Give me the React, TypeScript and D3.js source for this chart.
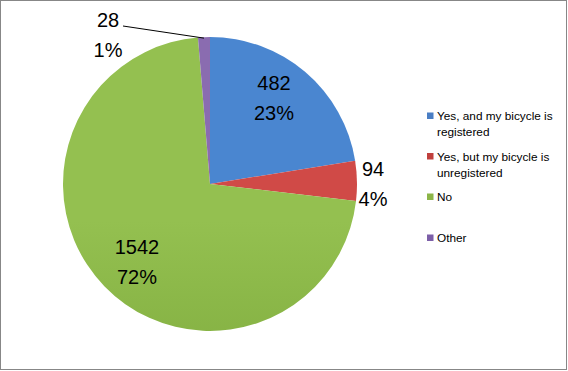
import React from "react";
import * as d3 from "d3";

const categories = ["Yes, and my bicycle is registered", "Yes, but my bicycle is unregistered", "No", "Other"];
const values = [482, 94, 1542, 28];
const pctLabels = ["23%", "4%", "72%", "1%"];
const legendLines = [["Yes, and my bicycle is", "registered"], ["Yes, but my bicycle is", "unregistered"], ["No"], ["Other"]];
const topColors = ["#4A86D0", "#D04A47", "#94C050", "#8A6CB0"];
const bottomColors = ["#3868AE", "#B03A37", "#73A034", "#6E5290"];
const legendColors = ["#4A7EC4", "#C0403D", "#8CB548", "#7C5FA8"];

export default function App() {
  const W = 568, H = 371;
  const cx = 210, cy = 184, r = 147;
  const pie = d3.pie<number>().sort(null).value((d) => d);
  const arcs = pie(values);
  const arc = d3.arc<d3.PieArcDatum<number>>().innerRadius(0).outerRadius(r);
  const font = "'Liberation Sans', Arial, sans-serif";
  const labelPos: [number, number][] = [
    [64, -94],
    [163, -8],
    [-73, 70],
    [-102, -157],
  ];
  const legendY = [120, 160.5, 201, 242];
  return (
    <div style={{ position: "absolute", left: 0, top: 0 }}>
      <svg width={W} height={H} style={{ display: "block" }}>
        <defs>
          {arcs.map((a, i) => (
            <linearGradient key={i} id={`g${i}`} gradientUnits="userSpaceOnUse" x1={0} y1={cy - r} x2={0} y2={cy + r}>
              <stop offset="0" stopColor={topColors[i]} />
              <stop offset="1" stopColor={bottomColors[i]} />
            </linearGradient>
          ))}
        </defs>
        <rect x={0.5} y={0.5} width={W - 2} height={H - 2} fill="#fff" stroke="#878787" strokeWidth={1} />
        <g transform={`translate(${cx},${cy})`}>
          {arcs.map((a, i) => (
            <path key={i} d={arc(a) || ""} fill={`url(#g${i})`} />
          ))}
        </g>
        {(() => {
          const a = arcs[3];
          const mid = (a.startAngle + a.endAngle) / 2;
          const ex = cx + Math.sin(mid) * r;
          const ey = cy - Math.cos(mid) * r;
          return <line x1={123} y1={26} x2={ex} y2={ey + 1} stroke="#000" strokeWidth={1} />;
        })()}
        {arcs.map((a, i) => {
          const [dx, dy] = labelPos[i];
          const x = cx + dx, y = cy + dy;
          return (
            <text key={i} x={x} y={y} textAnchor="middle" fontFamily={font} fontSize={20} fill="#000">
              <tspan x={x} dy={0}>{values[i]}</tspan>
              <tspan x={x} dy={30}>{pctLabels[i]}</tspan>
            </text>
          );
        })}
        {categories.map((c, i) => (
          <g key={c}>
            <rect x={427} y={legendY[i] - 7.5} width={6.5} height={6.5} fill={legendColors[i]} />
            <text x={437} y={legendY[i]} fontFamily={font} fontSize={11.8} fill="#000">
              {legendLines[i].map((l, j) => (
                <tspan key={j} x={437} dy={j === 0 ? 0 : 16}>{l}</tspan>
              ))}
            </text>
          </g>
        ))}
      </svg>
    </div>
  );
}
